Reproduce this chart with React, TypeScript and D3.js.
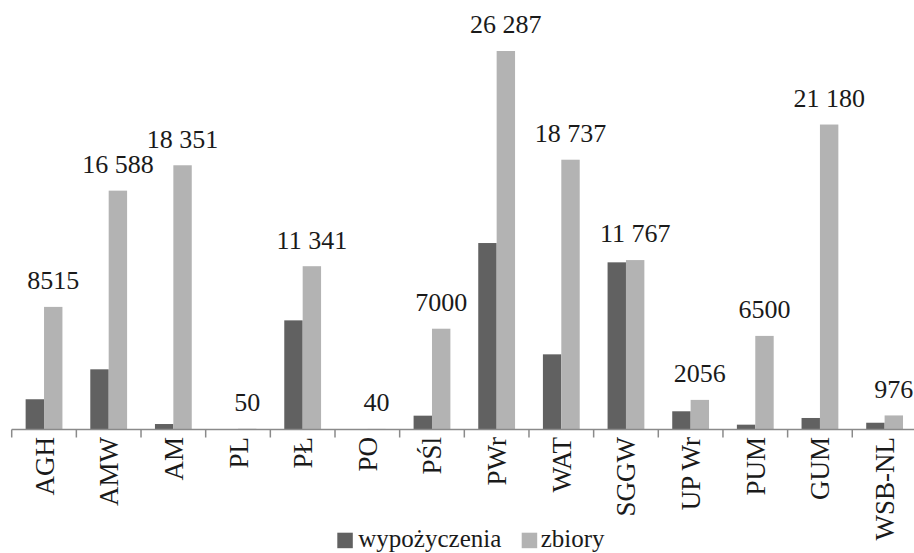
import React from "react";
import * as d3 from "d3";

const categories = ["AGH", "AMW", "AM", "PL", "PŁ", "PO", "PŚl", "PWr", "WAT", "SGGW", "UP Wr", "PUM", "GUM", "WSB-NL"];
const wypozyczenia = [2100, 4180, 380, 0, 7580, 0, 960, 12950, 5220, 11610, 1265, 335, 800, 470];
const zbiory = [8515, 16588, 18351, 50, 11341, 40, 7000, 26287, 18737, 11767, 2056, 6500, 21180, 976];
const seriesNames = ["wypożyczenia", "zbiory"];
const seriesColors = ["#616161", "#b3b3b3"];

const FONT = '"Liberation Serif", "DejaVu Serif", serif';
const W = 914;
const H = 553;

const locale = d3.formatLocale({ decimal: ",", thousands: " ", grouping: [3], currency: ["", " zł"] });
const fmtBig = locale.format(",d");
const fmtLabel = (v: number) => (v >= 10000 ? fmtBig(v) : String(v));

export default function App() {
  const x0 = d3.scaleBand<string>().domain(categories).range([11.7, 11.7 + 14 * 64.66]).padding(0);
  const x1 = d3.scaleBand<string>().domain(seriesNames).range([0, x0.bandwidth()]).paddingInner(0).paddingOuter(0.757);
  const y = d3.scaleLinear().domain([0, 26287]).range([429.5, 51]);
  const baseY = y(0);
  const series = [wypozyczenia, zbiory];
  const txt = { fontFamily: FONT };

  return (
    <svg width={W} height={H} style={{ position: "absolute", left: 0, top: 0, background: "#fff", fontFamily: FONT }}>
      {categories.map((c, i) =>
        series.map((s, si) => {
          const v = s[i];
          const top = y(v);
          return (
            <rect
              key={c + si}
              x={(x0(c) as number) + (x1(seriesNames[si]) as number)}
              y={top}
              width={x1.bandwidth()}
              height={baseY - top}
              fill={seriesColors[si]}
            />
          );
        })
      )}
      <line x1={11.7} x2={W} y1={baseY} y2={baseY} stroke="#8a8a8a" strokeWidth={1.5} />
      {categories.map((c) => (
        <line key={"t" + c} x1={x0(c) as number} x2={x0(c) as number} y1={baseY} y2={baseY + 8} stroke="#8a8a8a" strokeWidth={1.5} />
      ))}
      {categories.map((c) => {
        const cx = (x0(c) as number) + x0.bandwidth() / 2;
        return (
          <text key={"l" + c} style={txt} transform={`translate(${cx + 9.5},437) rotate(-90)`} textAnchor="end" fontSize={27} fill="#1a1a1a">
            {c}
          </text>
        );
      })}
      {categories.map((c, i) => {
        const cx = (x0(c) as number) + (x1("zbiory") as number) + x1.bandwidth() / 2;
        return (
          <text key={"d" + c} style={txt} x={cx} y={y(zbiory[i]) - 17.7} textAnchor="middle" fontSize={26} fill="#1a1a1a">
            {fmtLabel(zbiory[i])}
          </text>
        );
      })}
      <rect x={337.3} y={532.7} width={15.5} height={15.5} fill={seriesColors[0]} />
      <text style={txt} x={358.3} y={547} fontSize={25} fill="#1a1a1a">{seriesNames[0]}</text>
      <rect x={521.7} y={532.7} width={15.5} height={15.5} fill={seriesColors[1]} />
      <text style={txt} x={540.7} y={547} fontSize={25} fill="#1a1a1a">{seriesNames[1]}</text>
    </svg>
  );
}
